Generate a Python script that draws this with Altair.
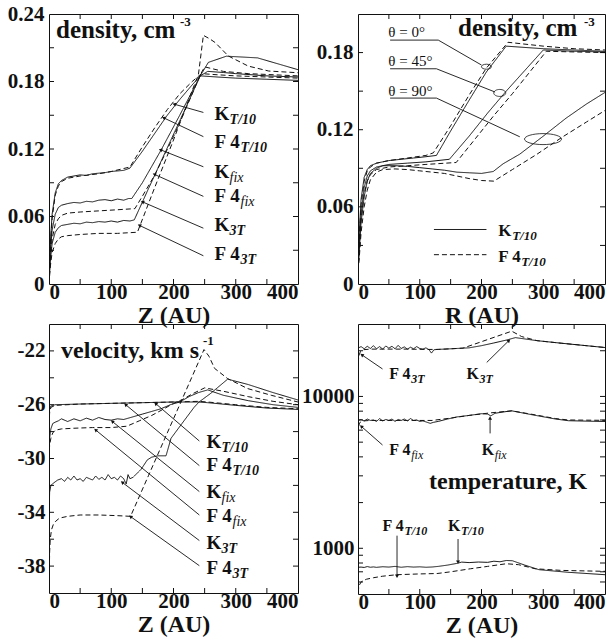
import math
import altair as alt
import pandas as pd

FONT = "Liberation Serif"
INK = "#111111"

# ======================= Panel A : density vs Z =======================
A_KT10_Z = [0, 2, 5, 10, 15, 20, 30, 40, 50, 60, 70, 80, 90, 100, 110, 120, 130, 150, 170, 190, 210, 230, 243, 270, 300, 350, 400]
A_KT10_N = [0.0, 0.035, 0.062, 0.081, 0.089, 0.092, 0.095, 0.096, 0.097, 0.0965, 0.098, 0.0985, 0.099, 0.1, 0.1005, 0.101, 0.103, 0.118, 0.134, 0.150, 0.164, 0.177, 0.185, 0.184, 0.183, 0.182, 0.181]
A_FT10_Z = [0, 2, 5, 10, 15, 20, 30, 50, 80, 100, 130, 150, 170, 190, 210, 230, 245, 270, 300, 350, 400]
A_FT10_N = [0.0, 0.03, 0.058, 0.079, 0.087, 0.091, 0.094, 0.096, 0.098, 0.100, 0.104, 0.122, 0.139, 0.155, 0.169, 0.180, 0.187, 0.186, 0.185, 0.184, 0.183]
A_KFIX_Z = [0, 2, 5, 10, 15, 20, 30, 40, 50, 60, 70, 80, 90, 100, 110, 120, 128, 133, 150, 180, 210, 243, 255, 280, 300, 350, 400]
A_KFIX_N = [0.0, 0.028, 0.048, 0.062, 0.068, 0.070, 0.0715, 0.0725, 0.0720, 0.0735, 0.0730, 0.0745, 0.0750, 0.0740, 0.0755, 0.0745, 0.0760, 0.0760, 0.090, 0.119, 0.150, 0.185, 0.189, 0.188, 0.187, 0.185, 0.184]
A_FFIX_Z = [0, 2, 5, 10, 15, 20, 30, 50, 80, 110, 138, 150, 170, 200, 220, 243, 250, 280, 320, 400]
A_FFIX_N = [0.0, 0.022, 0.040, 0.053, 0.058, 0.061, 0.063, 0.064, 0.065, 0.066, 0.067, 0.078, 0.097, 0.131, 0.156, 0.186, 0.193, 0.189, 0.187, 0.185]
A_K3T_Z = [0, 2, 5, 10, 15, 20, 30, 40, 50, 60, 70, 80, 90, 100, 110, 120, 130, 137, 160, 190, 220, 243, 256, 285, 335, 400]
A_K3T_N = [0.0, 0.020, 0.036, 0.046, 0.050, 0.052, 0.053, 0.054, 0.0535, 0.055, 0.0545, 0.0555, 0.055, 0.056, 0.0550, 0.0565, 0.0560, 0.057, 0.085, 0.121, 0.157, 0.185, 0.197, 0.2025, 0.201, 0.1905]
A_F3T_Z = [0, 2, 5, 10, 15, 20, 30, 50, 80, 110, 142, 170, 200, 230, 240, 248, 258, 267, 288, 320, 353, 400]
A_F3T_N = [0.0, 0.015, 0.028, 0.036, 0.040, 0.042, 0.043, 0.044, 0.045, 0.045, 0.046, 0.086, 0.128, 0.172, 0.186, 0.221, 0.218, 0.2146, 0.2027, 0.1937, 0.1893, 0.1878]

A_LAB_BASE = ["K", "F 4", "K", "F 4", "K", "F 4"]
A_LAB_SUB = ["T/10", "T/10", "fix", "fix", "3T", "3T"]
A_LAB_Z = [266, 266, 266, 266, 266, 266]
A_LAB_N = [0.146, 0.1206, 0.0938, 0.0728, 0.0475, 0.0212]
A_ARR_Z0 = [248, 248, 248, 248, 248, 248]
A_ARR_N0 = [0.1525, 0.131, 0.1042, 0.0779, 0.0496, 0.0251]
A_ARR_Z1 = [202, 185, 180, 170, 151, 146]
A_ARR_N1 = [0.1597, 0.1475, 0.1191, 0.0973, 0.0728, 0.0519]

# ======================= Panel B : density vs R =======================
B_K0_R = [0, 2, 5, 10, 15, 20, 30, 50, 70, 90, 110, 127, 150, 180, 208, 240, 300, 350, 400]
B_K0_N = [0.01, 0.04, 0.066, 0.083, 0.089, 0.092, 0.094, 0.096, 0.097, 0.098, 0.099, 0.100, 0.119, 0.143, 0.165, 0.185, 0.183, 0.182, 0.181]
B_F0_R = [0, 2, 5, 10, 15, 20, 30, 50, 80, 110, 122, 150, 180, 208, 243, 300, 350, 400]
B_F0_N = [0.01, 0.035, 0.062, 0.080, 0.088, 0.091, 0.094, 0.096, 0.098, 0.100, 0.102, 0.123, 0.147, 0.168, 0.188, 0.185, 0.183, 0.182]
B_K45_R = [0, 2, 5, 10, 15, 20, 30, 50, 80, 110, 148, 180, 210, 240, 270, 300, 350, 400]
B_K45_N = [0.01, 0.03, 0.055, 0.075, 0.084, 0.088, 0.091, 0.093, 0.094, 0.095, 0.097, 0.115, 0.133, 0.150, 0.166, 0.182, 0.181, 0.1805]
B_F45_R = [0, 2, 5, 10, 15, 20, 30, 50, 80, 110, 159, 190, 220, 250, 280, 305, 350, 400]
B_F45_N = [0.01, 0.025, 0.05, 0.07, 0.080, 0.085, 0.089, 0.091, 0.092, 0.093, 0.0945, 0.113, 0.131, 0.148, 0.166, 0.181, 0.1805, 0.180]
B_K90_R = [0, 2, 5, 10, 15, 20, 30, 40, 60, 80, 100, 120, 140, 160, 180, 200, 219, 235, 262, 300, 337, 370, 400]
B_K90_N = [0.01, 0.025, 0.048, 0.068, 0.080, 0.086, 0.090, 0.092, 0.092, 0.0915, 0.0905, 0.0895, 0.0885, 0.087, 0.0865, 0.086, 0.0875, 0.0935, 0.101, 0.115, 0.129, 0.140, 0.149]
B_F90_R = [0, 2, 5, 10, 15, 20, 30, 40, 60, 80, 100, 120, 140, 160, 180, 200, 220, 250, 290, 330, 370, 400]
B_F90_N = [0.01, 0.02, 0.04, 0.06, 0.073, 0.081, 0.087, 0.089, 0.0895, 0.089, 0.088, 0.087, 0.086, 0.084, 0.082, 0.0805, 0.080, 0.089, 0.101, 0.114, 0.126, 0.135]

B_THETA_TXT = ["θ = 0°", "θ = 45°", "θ = 90°"]
B_THETA_R = [49, 49, 49]
B_THETA_N = [0.1923, 0.1695, 0.1465]
B_LEAD_ID = [0, 0, 0, 1, 1, 1, 2, 2, 2]
B_LEAD_R = [52, 130, 200, 52, 127, 222, 52, 127, 262]
B_LEAD_N = [0.1897, 0.1897, 0.1703, 0.1674, 0.1674, 0.1493, 0.1446, 0.1446, 0.1145]
B_ELL_R = [208, 229.5, 299.6]
B_ELL_N = [0.169, 0.1486, 0.1127]
B_LEG_R0 = [123, 123]
B_LEG_R1 = [208, 208]
B_LEG_N = [0.0424, 0.0228]
B_LEG_BASE = ["K", "F 4"]
B_LEG_SUB = ["T/10", "T/10"]
B_LEG_TR = [227, 227]
B_LEG_TN = [0.0371, 0.0175]

# ======================= Panel C : velocity vs Z =======================
C_KT10_Z = [0, 1, 3, 10, 50, 100, 150, 200, 240, 255, 300, 350, 400]
C_KT10_V = [-27.0, -26.3, -26.1, -26.0, -25.95, -25.9, -25.85, -25.8, -25.8, -25.85, -26.05, -26.25, -26.35]
C_FT10_Z = [0, 1, 3, 10, 50, 100, 150, 200, 240, 255, 300, 350, 400]
C_FT10_V = [-27.5, -26.6, -26.2, -26.05, -25.95, -25.9, -25.85, -25.8, -25.75, -25.8, -26.0, -26.2, -26.3]
C_KFIX_Z = [0, 1, 3, 6, 10, 15, 20, 30, 40, 50, 60, 70, 80, 90, 100, 110, 120, 135, 150, 165, 180, 195, 210, 225, 240, 255, 280, 320, 360, 400]
C_KFIX_V = [-30.0, -28.5, -27.8, -27.4, -27.3, -27.2, -27.05, -27.25, -27.05, -27.2, -27.0, -27.15, -26.95, -27.1, -27.15, -27.05, -27.1, -26.9, -26.7, -26.5, -26.3, -26.0, -25.8, -25.4, -25.1, -24.9, -25.3, -25.7, -26.0, -26.2]
C_FFIX_Z = [0, 1, 3, 6, 10, 20, 40, 70, 100, 125, 145, 165, 185, 200, 215, 230, 250, 280, 320, 360, 400]
C_FFIX_V = [-30.0, -29.0, -28.5, -28.1, -27.9, -27.8, -27.75, -27.7, -27.7, -27.6, -27.2, -26.8, -26.3, -25.9, -25.6, -25.2, -24.75, -25.0, -25.4, -25.75, -26.0]
C_K3T_Z = [0, 1, 3, 8, 14, 20, 25, 30, 35, 40, 45, 50, 55, 60, 65, 70, 75, 80, 85, 90, 95, 100, 105, 110, 115, 120, 124, 127, 130, 135, 148, 158, 165, 175, 188, 196, 212, 233, 241, 260, 287, 320, 360, 400]
C_K3T_V = [-34.5, -32.5, -32.0, -31.8, -31.6, -31.5, -31.7, -31.4, -31.6, -31.3, -31.6, -31.5, -31.7, -31.4, -31.5, -31.6, -31.3, -31.55, -31.4, -31.6, -31.2, -31.5, -31.4, -31.6, -31.3, -31.5, -31.9, -31.2, -31.5, -31.4, -30.8, -30.1, -29.9, -29.8, -29.8, -28.5, -27.5, -26.2, -25.8, -25.15, -24.1, -24.5, -25.1, -25.65]
C_F3T_Z = [0, 0.5, 1, 2, 4, 7, 10, 15, 20, 30, 50, 80, 110, 131, 160, 190, 220, 249, 257, 266, 287, 319, 357, 400]
C_F3T_V = [-40, -38.5, -37, -36, -35.3, -34.9, -34.7, -34.5, -34.4, -34.3, -34.2, -34.2, -34.25, -34.3, -31.25, -28.1, -24.95, -21.9, -22.4, -23.3, -24.06, -24.8, -25.3, -25.8]

C_LAB_BASE = ["K", "F 4", "K", "F 4", "K", "F 4"]
C_LAB_SUB = ["T/10", "T/10", "fix", "fix", "3T", "3T"]
C_LAB_Z = [253, 253, 253, 253, 253, 253]
C_LAB_V = [-29.2, -30.95, -32.96, -34.7, -36.7, -38.6]
C_ARR_Z0 = [241.5, 241.5, 241.5, 241.5, 241.5, 241.5]
C_ARR_V0 = [-28.7, -30.53, -32.46, -34.2, -36.1, -37.97]
C_ARR_Z1 = [171.9, 123.7, 102.3, 75.5, 118.4, 131.7]
C_ARR_V1 = [-25.94, -26.02, -27.27, -27.9, -31.8, -34.34]

# ======================= Panel D : temperature vs Z =======================
D_K3T_Z = [0, 5, 10, 15, 20, 25, 30, 35, 40, 45, 50, 55, 60, 65, 70, 75, 80, 85, 90, 95, 100, 105, 110, 115, 119, 123, 128, 140, 160, 180, 200, 220, 240, 255, 290, 330, 400]
D_K3T_T = [20800, 21300, 20600, 21400, 20700, 21600, 20600, 21300, 20500, 21500, 20800, 21400, 20600, 21700, 20700, 21200, 20500, 21100, 20600, 21300, 20700, 20500, 20900, 20300, 19300, 20300, 20400, 20500, 20700, 20900, 21600, 22500, 23500, 24400, 23300, 22400, 21000]
D_F3T_Z = [0, 1, 2, 4, 8, 20, 50, 80, 110, 130, 150, 170, 210, 230, 249, 265, 290, 330, 400]
D_F3T_T = [16500, 17800, 18800, 19800, 20300, 20500, 20500, 20500, 20400, 20400, 20600, 20800, 23700, 25300, 26900, 24800, 23300, 22400, 21000]
D_KFIX_Z = [0, 5, 10, 15, 20, 25, 30, 35, 40, 45, 50, 55, 60, 65, 70, 75, 80, 85, 90, 95, 100, 105, 110, 117, 122, 130, 145, 160, 180, 200, 210, 215, 222, 235, 249, 280, 320, 341, 400]
D_KFIX_T = [6950, 7050, 6900, 7100, 6950, 7000, 6850, 7150, 6900, 7050, 6950, 7100, 6850, 7050, 6950, 7100, 6900, 7150, 6950, 7000, 6850, 6900, 6800, 6650, 6750, 6850, 7100, 7330, 7500, 7700, 7650, 7450, 7750, 7900, 8040, 7600, 7100, 6920, 6840]
D_FFIX_Z = [0, 1, 2, 4, 8, 20, 50, 80, 120, 150, 180, 215, 249, 280, 320, 340, 400]
D_FFIX_T = [5000, 6300, 6600, 6800, 6900, 6950, 6950, 6950, 6950, 7200, 7500, 7800, 8040, 7650, 7150, 7000, 6960]
D_KT10_Z = [0, 5, 10, 15, 20, 25, 30, 40, 50, 60, 70, 80, 90, 100, 110, 120, 130, 145, 160, 168, 180, 195, 210, 220, 230, 240, 250, 270, 293, 340, 400]
D_KT10_T = [750, 752, 748, 758, 750, 754, 749, 756, 752, 760, 750, 757, 752, 755, 750, 753, 760, 775, 795, 811, 805, 812, 808, 822, 815, 831, 828, 775, 723, 695, 670]
D_FT10_Z = [0, 1, 2, 5, 10, 14, 25, 40, 63, 100, 128, 150, 182, 210, 240, 260, 287, 330, 400]
D_FT10_T = [510, 545, 570, 600, 617, 626, 640, 655, 670, 678, 682, 700, 733, 760, 791, 780, 733, 715, 705]

D_LAB_BASE = ["F 4", "K", "F 4", "K", "F 4", "K"]
D_LAB_SUB = ["3T", "3T", "fix", "fix", "T/10", "T/10"]
D_LAB_Z = [50.6, 175.8, 50.6, 200.3, 39.7, 145.8]
D_LAB_T = [13050, 13050, 4120, 4120, 1305, 1305]
D_ARR_Z0 = [39.7, 208.5, 39.7, 213.9, 63.2, 162]
D_ARR_T0 = [15170, 16750, 4790, 5710, 1211, 1151]
D_ARR_Z1 = [7.0, 243.8, 6.0, 213.9, 63.2, 162]
D_ARR_T1 = [18700, 23200, 6316, 7160, 661, 818]

DASH = alt.Scale(domain=["solid", "dashed"], range=[[1, 0], [5, 3]])


def mk_lines(items):
    rows = []
    for name, kind, xs, ys in items:
        for i, (a, b) in enumerate(zip(xs, ys)):
            rows.append(dict(series=name, kind=kind, i=i, x=a, y=b))
    return pd.DataFrame(rows)


def mapper(W, H, xdom, ydom, log):
    def f(x, y):
        px = (x - xdom[0]) / (xdom[1] - xdom[0]) * W
        if log:
            fy = (math.log10(y) - math.log10(ydom[0])) / (math.log10(ydom[1]) - math.log10(ydom[0]))
        else:
            fy = (y - ydom[0]) / (ydom[1] - ydom[0])
        return px, H * (1 - fy)
    return f


class Panel:
    def __init__(self, W, H, xdom, ydom, xaxis, yaxis, log=False):
        self.W, self.H = W, H
        self.xs = alt.Scale(domain=xdom, nice=False, zero=False)
        if log:
            self.ys = alt.Scale(type="log", domain=ydom, nice=False)
        else:
            self.ys = alt.Scale(domain=ydom, nice=False, zero=False)
        self.xaxis, self.yaxis = xaxis, yaxis
        self.m = mapper(W, H, xdom, ydom, log)
        self.layers = []

    def X(self, f):
        return alt.X(f, scale=self.xs, axis=self.xaxis)

    def Y(self, f):
        return alt.Y(f, scale=self.ys, axis=self.yaxis)

    def lines(self, df):
        self.layers.append(
            alt.Chart(df).mark_line(strokeWidth=1, color=INK, clip=True).encode(
                x=self.X("x:Q"), y=self.Y("y:Q"),
                detail="series:N", order="i:Q",
                strokeDash=alt.StrokeDash("kind:N", scale=DASH, legend=None),
            )
        )

    def ticks(self, xminor, yminor, L=5):
        W, H = self.W, self.H
        tx = pd.DataFrame({"x": xminor})
        ty = pd.DataFrame({"y": yminor})
        r = dict(color=INK, strokeWidth=1)
        self.layers += [
            alt.Chart(tx).mark_rule(**r).encode(x=self.X("x:Q"), y=alt.value(H), y2=alt.value(H - L)),
            alt.Chart(tx).mark_rule(**r).encode(x=self.X("x:Q"), y=alt.value(0), y2=alt.value(L)),
            alt.Chart(ty).mark_rule(**r).encode(y=self.Y("y:Q"), x=alt.value(0), x2=alt.value(L)),
            alt.Chart(ty).mark_rule(**r).encode(y=self.Y("y:Q"), x=alt.value(W - L), x2=alt.value(W)),
        ]

    def arrows(self, x0, y0, x1, y1):
        ang = []
        for a, b, c, d in zip(x0, y0, x1, y1):
            p0 = self.m(a, b)
            p1 = self.m(c, d)
            ang.append(math.degrees(math.atan2(p1[0] - p0[0], -(p1[1] - p0[1]))) % 360)
        df = pd.DataFrame({"x": x0, "y": y0, "x1": x1, "y1": y1, "ang": ang})
        heads = pd.DataFrame({"x": x1, "y": y1, "ang": ang})
        self.layers += [
            alt.Chart(df).mark_rule(color=INK, strokeWidth=0.9).encode(
                x=self.X("x:Q"), y=self.Y("y:Q"), x2="x1:Q", y2="y1:Q"),
            alt.Chart(heads).mark_point(shape="triangle", filled=True, size=16, color=INK, opacity=1).encode(
                x=self.X("x:Q"), y=self.Y("y:Q"), angle=alt.Angle("ang:Q", scale=None)),
        ]

    def sub_labels(self, base, sub, xs, ys, fs, fss, dxk, dxf, dys):
        df = pd.DataFrame({"base": base, "sub": sub, "x": xs, "y": ys})
        self.layers.append(
            alt.Chart(df).mark_text(align="left", baseline="alphabetic", font=FONT, fontSize=fs,
                                    fontWeight="bold", color=INK).encode(
                x=self.X("x:Q"), y=self.Y("y:Q"), text="base:N"))
        for is_k, dx in ((True, dxk), (False, dxf)):
            for is_fix in (True, False):
                cond = ("datum.base " + ("==" if is_k else "!=") + " 'K' && datum.sub "
                        + ("==" if is_fix else "!=") + " 'fix'")
                self.layers.append(
                    alt.Chart(df).transform_filter(cond).mark_text(
                        align="left", baseline="alphabetic", font=FONT, fontSize=fss,
                        fontWeight="normal" if is_fix else "bold",
                        fontStyle="italic", color=INK, dx=dx, dy=dys).encode(
                        x=self.X("x:Q"), y=self.Y("y:Q"), text="sub:N"))

    def free_text(self, txt, x, y, size, weight="bold"):
        self.layers.append(
            alt.Chart(pd.DataFrame({"t": [txt]})).mark_text(
                align="left", baseline="alphabetic", font=FONT, fontSize=size, fontWeight=weight,
                color=INK).encode(x=alt.value(x), y=alt.value(y), text="t:N"))

    def chart(self):
        return alt.layer(*self.layers).properties(width=self.W, height=self.H)


def xaxis(title):
    return alt.Axis(values=[0, 100, 200, 300, 400], format="d", labelFlush=True, title=title,
                    labelPadding=-3, titlePadding=1)


XMINOR = [50, 100, 150, 200, 250, 300, 350]
DENS_FMT = "datum.value == 0 ? '0' : format(datum.value, '.2f')"

# ---------- Panel A ----------
A = Panel(249, 270, [0, 400], [0, 0.24], xaxis("Z (AU)"),
          alt.Axis(values=[0, 0.06, 0.12, 0.18, 0.24], title=None, labelPadding=5, labelExpr=DENS_FMT))
A.lines(mk_lines([
    ("KT10", "solid", A_KT10_Z, A_KT10_N), ("FT10", "dashed", A_FT10_Z, A_FT10_N),
    ("Kfix", "solid", A_KFIX_Z, A_KFIX_N), ("Ffix", "dashed", A_FFIX_Z, A_FFIX_N),
    ("K3T", "solid", A_K3T_Z, A_K3T_N), ("F3T", "dashed", A_F3T_Z, A_F3T_N)]))
A.ticks(XMINOR, [0.03, 0.06, 0.09, 0.12, 0.15, 0.18, 0.21])
A.arrows(A_ARR_Z0, A_ARR_N0, A_ARR_Z1, A_ARR_N1)
A.sub_labels(A_LAB_BASE, A_LAB_SUB, A_LAB_Z, A_LAB_N, 19, 14, 15, 26, 4)
A.free_text("density, cm", 7, 24, 25)
A.free_text("-3", 131, 12, 13)

# ---------- Panel B ----------
B = Panel(247, 270, [0, 400], [0, 0.21], xaxis("R (AU)"),
          alt.Axis(values=[0, 0.06, 0.12, 0.18], title=None, labelPadding=5, labelExpr=DENS_FMT))
B.lines(mk_lines([
    ("K0", "solid", B_K0_R, B_K0_N), ("F0", "dashed", B_F0_R, B_F0_N),
    ("K45", "solid", B_K45_R, B_K45_N), ("F45", "dashed", B_F45_R, B_F45_N),
    ("K90", "solid", B_K90_R, B_K90_N), ("F90", "dashed", B_F90_R, B_F90_N)]))
B.ticks(XMINOR, [0.03, 0.06, 0.09, 0.12, 0.15, 0.18])
lead = pd.DataFrame({"id": B_LEAD_ID, "x": B_LEAD_R, "y": B_LEAD_N,
                     "i": list(range(len(B_LEAD_R)))})
B.layers.append(alt.Chart(lead).mark_line(color=INK, strokeWidth=0.9).encode(
    x=B.X("x:Q"), y=B.Y("y:Q"), detail="id:N", order="i:Q"))
B.layers.append(alt.Chart(pd.DataFrame({"t": B_THETA_TXT, "x": B_THETA_R, "y": B_THETA_N})).mark_text(
    align="left", baseline="alphabetic", font=FONT, fontSize=15, color=INK).encode(
    x=B.X("x:Q"), y=B.Y("y:Q"), text="t:N"))
for (ex, ey), (w, h) in zip(zip(B_ELL_R, B_ELL_N), [(10, 5), (12, 7), (37, 11)]):
    r = h / w
    path = f"M-1,0A1,{r:.3f},0,1,1,1,0A1,{r:.3f},0,1,1,-1,0Z"
    B.layers.append(alt.Chart(pd.DataFrame({"x": [ex], "y": [ey]})).mark_point(
        shape=path, size=w * w, filled=False, color=INK, strokeWidth=0.8, opacity=1).encode(
        x=B.X("x:Q"), y=B.Y("y:Q")))
leg = pd.DataFrame({"x": B_LEG_R0, "x1": B_LEG_R1, "y": B_LEG_N, "kind": ["solid", "dashed"]})
B.layers.append(alt.Chart(leg).mark_rule(color=INK, strokeWidth=1).encode(
    x=B.X("x:Q"), x2="x1:Q", y=B.Y("y:Q"),
    strokeDash=alt.StrokeDash("kind:N", scale=DASH, legend=None)))
B.sub_labels(B_LEG_BASE, B_LEG_SUB, B_LEG_TR, B_LEG_TN, 17, 13, 14, 23, 4)
B.free_text("density, cm", 100, 22, 25)
B.free_text("-3", 226, 12, 13)

# ---------- Panel C ----------
C = Panel(249, 269, [0, 400], [-40, -20], xaxis("Z (AU)"),
          alt.Axis(values=[-22, -26, -30, -34, -38], title=None, labelPadding=4,
                   labelExpr="'-' + abs(datum.value)"))
C.lines(mk_lines([
    ("KT10", "solid", C_KT10_Z, C_KT10_V), ("FT10", "dashed", C_FT10_Z, C_FT10_V),
    ("Kfix", "solid", C_KFIX_Z, C_KFIX_V), ("Ffix", "dashed", C_FFIX_Z, C_FFIX_V),
    ("K3T", "solid", C_K3T_Z, C_K3T_V), ("F3T", "dashed", C_F3T_Z, C_F3T_V)]))
C.ticks(XMINOR, [-38, -36, -34, -32, -30, -28, -26, -24, -22])
C.arrows(C_ARR_Z0, C_ARR_V0, C_ARR_Z1, C_ARR_V1)
C.sub_labels(C_LAB_BASE, C_LAB_SUB, C_LAB_Z, C_LAB_V, 19, 14, 15, 26, 4)
C.free_text("velocity, km s", 12, 34, 24)
C.free_text("-1", 154, 21, 13)

# ---------- Panel D ----------
D = Panel(247, 270, [0, 400], [500, 30000], xaxis("Z (AU)"),
          alt.Axis(values=[1000, 10000], format="d", title=None, labelPadding=4), log=True)
D.lines(mk_lines([
    ("KT10", "solid", D_KT10_Z, D_KT10_T), ("FT10", "dashed", D_FT10_Z, D_FT10_T),
    ("Kfix", "solid", D_KFIX_Z, D_KFIX_T), ("Ffix", "dashed", D_FFIX_Z, D_FFIX_T),
    ("K3T", "solid", D_K3T_Z, D_K3T_T), ("F3T", "dashed", D_F3T_Z, D_F3T_T)]))
D.ticks(XMINOR, [600, 700, 800, 900, 1000, 2000, 3000, 4000, 5000, 6000, 7000, 8000, 9000, 10000, 20000])
D.arrows(D_ARR_Z0, D_ARR_T0, D_ARR_Z1, D_ARR_T1)
D.sub_labels(D_LAB_BASE, D_LAB_SUB, D_LAB_Z, D_LAB_T, 16, 12, 13, 22, 4)
D.free_text("temperature, K", 71, 165, 24)

chart = alt.concat(A.chart(), B.chart(), C.chart(), D.chart(), columns=2,
                   spacing={"row": 40, "column": 60}, bounds="flush").properties(
    padding={"left": 6, "top": 2, "right": 0, "bottom": 0}, background="white")
chart = chart.configure_view(stroke=INK, strokeWidth=1).configure_axis(
    labelFont=FONT, labelFontSize=21, labelFontWeight="bold", labelColor=INK,
    titleFont=FONT, titleFontSize=24, titleFontWeight="bold", titleColor=INK,
    domain=False, ticks=False, grid=False)

chart.save("out.html", embed_options={"renderer": "svg", "actions": False})
